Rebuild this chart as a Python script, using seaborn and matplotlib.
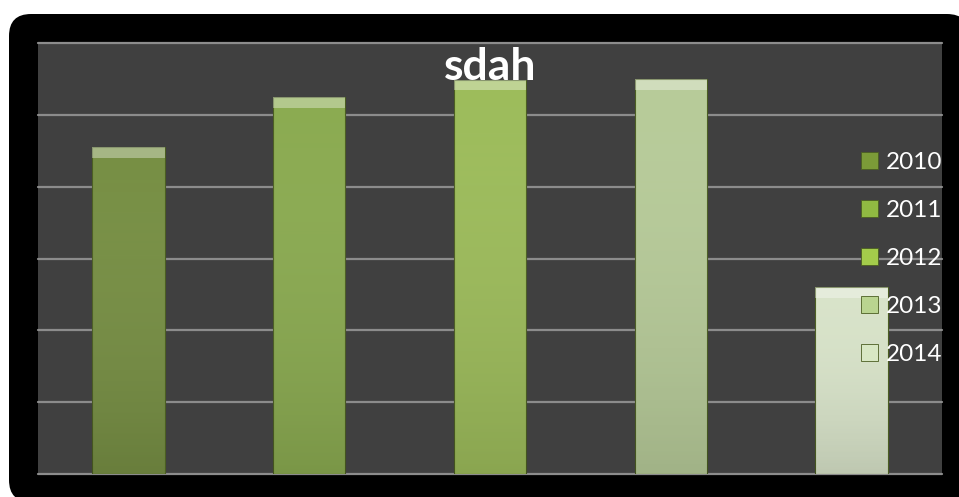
import numpy as np
import pandas as pd
import matplotlib
matplotlib.use('Agg')
import matplotlib.pyplot as plt
import seaborn as sns
from matplotlib.patches import FancyBboxPatch, Rectangle, Patch
from matplotlib.colors import LinearSegmentedColormap

years = ['2010', '2011', '2012', '2013', '2014']
values = [4.55, 5.25, 5.49, 5.50, 2.60]
colors = ['#7b9b38', '#90ba42', '#a3cc4b', '#b9d490', '#d8e8c4']
title = 'sdah'

df = pd.DataFrame({'year': years, 'value': values})

sns.set_theme(style='dark')
plt.rcParams['font.family'] = ['Lato', 'DejaVu Sans']

fig = plt.figure(figsize=(9.59, 4.97), dpi=100)
fig.patch.set_facecolor('white')

# black rounded frame behind everything
frame = FancyBboxPatch((0.09, -0.05), 9.6, 4.88, boxstyle='round,pad=0,rounding_size=0.22',
                       transform=fig.dpi_scale_trans, facecolor='black', edgecolor='none', zorder=-5)
fig.patches.append(frame)

ax = fig.add_axes([38/959, 23/497, 904/959, 431/497])
ax.set_zorder(2)
ax.set_facecolor('#404040')

sns.barplot(data=df, x='year', y='value', hue='year', palette=colors, width=0.4,
            edgecolor='#4b5e22', linewidth=0.8, legend=False, ax=ax, zorder=3)

ax.set_ylim(0, 6)
ax.set_xlim(-0.5, 4.5)
ax.set_yticks(range(0, 7))
ax.yaxis.grid(True, color='#8c8c8c', linewidth=1.6, zorder=1)
ax.xaxis.grid(False)
for gl in ax.get_ygridlines():
    gl.set_clip_on(False)
ax.set_axisbelow(True)
ax.set_xticklabels([])
ax.set_yticklabels([])
ax.tick_params(length=0)
ax.set_xlabel('')
ax.set_ylabel('')
for s in ax.spines.values():
    s.set_visible(False)

# bevel-like shading on each bar
shade = LinearSegmentedColormap.from_list('shade', [(1, 1, 1, 0.0), (0, 0, 0, 0.12)])
grad = np.linspace(0, 1, 100).reshape(-1, 1)
for p in list(ax.patches):
    x0, y0 = p.get_x(), p.get_y()
    w, h = p.get_width(), p.get_height()
    im = ax.imshow(grad, extent=(x0, x0 + w, y0, y0 + h), cmap=shade, aspect='auto',
                   origin='upper', zorder=4, interpolation='bicubic')
    im.set_clip_path(p)
    top = Rectangle((x0, y0 + h - 0.15), w, 0.15, facecolor='white', alpha=0.35,
                    edgecolor='none', zorder=5)
    ax.add_patch(top)
    top.set_clip_path(p)
ax.set_xlim(-0.5, 4.5)
ax.set_ylim(0, 6)

ax.text(0.5, 0.914, title, transform=ax.transAxes, ha='center', va='baseline',
        fontsize=32, fontweight='bold', color='white', zorder=10)

handles = [Patch(facecolor=c, edgecolor='#4b5e22', linewidth=0.6) for c in colors]
leg = ax.legend(handles, years, loc='center right', bbox_to_anchor=(1.0, 0.5),
                frameon=False, fontsize=17.5, labelcolor='white', handlelength=0.7,
                handleheight=0.7, handletextpad=0.3, labelspacing=1.12,
                borderaxespad=0, borderpad=0)
leg.set_zorder(12)

fig.savefig('out.png', dpi=100)
